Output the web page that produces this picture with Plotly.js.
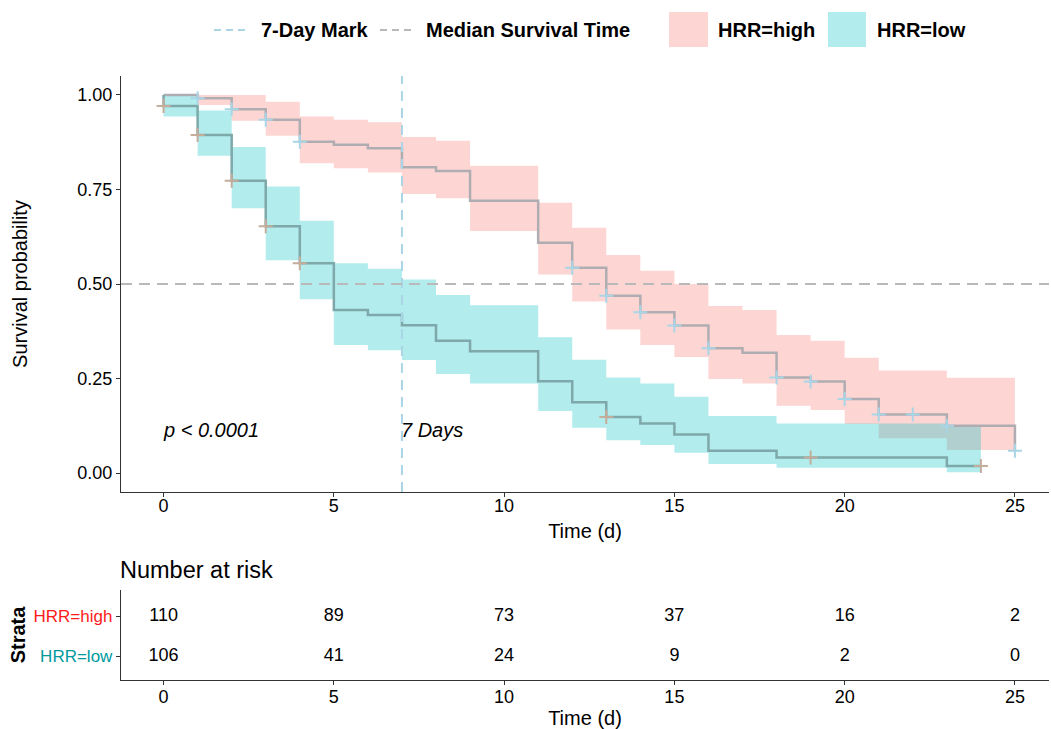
<!DOCTYPE html>
<html>
<head>
<meta charset="utf-8">
<script src="https://cdn.plot.ly/plotly-3.0.1.min.js"></script>
<style>html,body{margin:0;padding:0;background:#fff;}#chart{width:1051px;height:729px;}</style>
</head>
<body>
<div id="chart"></div>
<script>
// ---- Data ----
const highTimes = [0,1,2,3,4,5,6,7,8,9,11,12,13,14,15,16,17,18,19,20,21,23,25];
const highSurv  = [1.000,0.991,0.962,0.934,0.876,0.868,0.859,0.809,0.799,0.720,0.609,0.543,0.469,0.425,0.390,0.330,0.318,0.253,0.242,0.196,0.155,0.125,0.059];
const highUpper = [1.000,1.000,1.000,0.982,0.943,0.934,0.928,0.889,0.879,0.813,0.715,0.649,0.577,0.535,0.500,0.442,0.431,0.365,0.350,0.305,0.271,0.252];
const highLower = [1.000,0.973,0.932,0.892,0.819,0.806,0.795,0.738,0.727,0.640,0.525,0.454,0.380,0.339,0.307,0.249,0.237,0.178,0.167,0.130,0.092,0.061];
const highEnd = 25;

const lowStart = 1.0;
const lowTimes = [0,1,2,3,4,5,6,7,8,9,11,12,13,14,15,16,18,23];
const lowSurv  = [0.971,0.894,0.773,0.653,0.555,0.431,0.418,0.391,0.350,0.322,0.243,0.187,0.148,0.131,0.102,0.059,0.041,0.019];
const lowUpper = [1.000,0.959,0.862,0.758,0.667,0.555,0.540,0.512,0.471,0.444,0.359,0.300,0.253,0.237,0.202,0.151,0.131,0.125];
const lowLower = [0.943,0.839,0.700,0.563,0.460,0.339,0.325,0.299,0.262,0.237,0.164,0.120,0.087,0.074,0.054,0.024,0.014,0.002];
const lowEnd = 24;

const highCensorT = [1,2,3,4,12,13,14,15,16,18,19,20,21,22,23,25];
const highCensorS = [0.991,0.962,0.934,0.876,0.543,0.469,0.425,0.390,0.330,0.253,0.242,0.196,0.155,0.155,0.125,0.059];
const lowCensorT = [0,1,2,3,4,13,19,24];
const lowCensorS = [0.971,0.894,0.773,0.653,0.555,0.148,0.041,0.019];

const riskTimes = [0,5,10,15,20,25];
const highRisk = [110,89,73,37,16,2];
const lowRisk  = [106,41,24,9,2,0];
const strata = ['HRR=low','HRR=high'];

const markDay = 7;
const medianLevel = 0.5;
const xTicks = [0,5,10,15,20,25];
const yTicks = [0,0.25,0.5,0.75,1];
const yTickText = ['0.00','0.25','0.50','0.75','1.00'];

// ---- helpers ----
function stepPath(times, vals, endT){
  const xs=[], ys=[];
  for(let i=0;i<times.length;i++){
    const next = (i+1<times.length)? times[i+1] : endT;
    xs.push(times[i]); ys.push(vals[i]);
    xs.push(next); ys.push(vals[i]);
  }
  return {x:xs, y:ys};
}
function band(times, up, lo, endT){
  const u = stepPath(times, up, endT), l = stepPath(times, lo, endT);
  return {x:u.x.concat(l.x.slice().reverse()), y:u.y.concat(l.y.slice().reverse())};
}

const FONT = 'Liberation Sans, Arial, Helvetica, sans-serif';
const pink = 'rgba(248,118,109,0.3)';
const cyan = 'rgba(0,191,196,0.3)';

const hb = band(highTimes.slice(0,highTimes.length-1), highUpper, highLower, highEnd);
const lb = band(lowTimes, lowUpper, lowLower, lowEnd);
const hl = stepPath(highTimes, highSurv, highEnd);
const ll = stepPath([0].concat(lowTimes), [lowStart].concat(lowSurv), lowEnd);

const traces = [
  {x:hb.x, y:hb.y, type:'scatter', mode:'lines', fill:'toself', fillcolor:pink, line:{width:0}, hoverinfo:'skip', showlegend:false},
  {x:lb.x, y:lb.y, type:'scatter', mode:'lines', fill:'toself', fillcolor:cyan, line:{width:0}, hoverinfo:'skip', showlegend:false},
  {x:hl.x, y:hl.y, type:'scatter', mode:'lines', line:{color:'#b0adb2', width:2.5}, showlegend:false},
  {x:ll.x, y:ll.y, type:'scatter', mode:'lines', line:{color:'#7ea8a9', width:2.5}, showlegend:false},
  {x:highCensorT, y:highCensorS, type:'scatter', mode:'markers', marker:{symbol:'cross-thin', size:10, line:{color:'#a9d5e6', width:2}}, showlegend:false},
  {x:lowCensorT, y:lowCensorS, type:'scatter', mode:'markers', marker:{symbol:'cross-thin', size:10, line:{color:'#c4ad9b', width:2}}, showlegend:false},
  {x:riskTimes, y:riskTimes.map(()=>2), text:highRisk.map(String), type:'scatter', mode:'text', textfont:{family:FONT, size:18, color:'#000'}, xaxis:'x2', yaxis:'y2', showlegend:false},
  {x:riskTimes, y:riskTimes.map(()=>1), text:lowRisk.map(String), type:'scatter', mode:'text', textfont:{family:FONT, size:18, color:'#000'}, xaxis:'x2', yaxis:'y2', showlegend:false}
];

// pixel -> paper helpers for manual legend (plot area: x 121..1049, y 76..680)
const PL=121, PW=928, PB=680, PH=604;
const px = v => (v-PL)/PW;
const py = v => (PB-v)/PH;

const shapes = [
  {type:'line', xref:'x', yref:'y domain', x0:markDay, x1:markDay, y0:0, y1:1, line:{color:'#a9d5e6', width:2, dash:'10px,7px'}, layer:'above'},
  {type:'line', xref:'x domain', yref:'y', x0:0, x1:1, y0:medianLevel, y1:medianLevel, line:{color:'#b9b9b9', width:2, dash:'11px,7px'}, layer:'above'},
  // legend swatches
  {type:'line', xref:'paper', yref:'paper', x0:px(214), x1:px(246), y0:py(30), y1:py(30), line:{color:'#a9d5e6', width:2, dash:'7px,5px'}},
  {type:'line', xref:'paper', yref:'paper', x0:px(380), x1:px(412), y0:py(30), y1:py(30), line:{color:'#b9b9b9', width:2, dash:'7px,5px'}},
  {type:'rect', xref:'paper', yref:'paper', x0:px(669), x1:px(708), y0:py(47), y1:py(12), fillcolor:pink, line:{width:0}},
  {type:'rect', xref:'paper', yref:'paper', x0:px(828), x1:px(866), y0:py(47), y1:py(12), fillcolor:cyan, line:{width:0}}
];

const annotations = [
  {text:'<i>p < 0.0001</i>', xref:'x', yref:'y', x:0, y:0.113, xanchor:'left', yanchor:'middle', xshift:-3, showarrow:false, font:{family:FONT, size:20, color:'#000'}},
  {text:'<i>7 Days</i>', xref:'x', yref:'y', x:markDay, y:0.113, xanchor:'left', yanchor:'middle', xshift:-3, showarrow:false, font:{family:FONT, size:20, color:'#000'}},
  {text:'Number at risk', xref:'paper', yref:'paper', x:px(118), y:py(570), xanchor:'left', yanchor:'middle', showarrow:false, font:{family:FONT, size:23.5, color:'#000'}},
  {text:'<b>7-Day Mark</b>', xref:'paper', yref:'paper', x:px(259), y:py(30), xanchor:'left', yanchor:'middle', showarrow:false, font:{family:FONT, size:20, color:'#000'}},
  {text:'<b>Median Survival Time</b>', xref:'paper', yref:'paper', x:px(424), y:py(30), xanchor:'left', yanchor:'middle', showarrow:false, font:{family:FONT, size:20, color:'#000'}},
  {text:'<b>HRR=high</b>', xref:'paper', yref:'paper', x:px(716), y:py(30), xanchor:'left', yanchor:'middle', showarrow:false, font:{family:FONT, size:20, color:'#000'}},
  {text:'<b>HRR=low</b>', xref:'paper', yref:'paper', x:px(875), y:py(30), xanchor:'left', yanchor:'middle', showarrow:false, font:{family:FONT, size:20, color:'#000'}}
];

const axisCommon = {showgrid:false, zeroline:false, showline:true, linecolor:'#333', linewidth:1.2, ticks:'outside', ticklen:4, tickcolor:'#333', tickfont:{family:FONT, size:18, color:'#000'}};

const layout = {
  width:1051, height:729,
  margin:{l:121, r:2, t:76, b:49},
  paper_bgcolor:'#fff', plot_bgcolor:'#fff',
  showlegend:false,
  font:{family:FONT},
  xaxis: Object.assign({}, axisCommon, {domain:[0,1], range:[-1.25,26.0], tickvals:xTicks, anchor:'y', ticklabelstandoff:-7,
    title:{text:'Time (d)', font:{family:FONT, size:20, color:'#000'}, standoff:9}}),
  yaxis: Object.assign({}, axisCommon, {domain:[188/604,1], range:[-0.05,1.05], tickvals:yTicks, ticktext:yTickText, anchor:'x',
    title:{text:'Survival probability', font:{family:FONT, size:20, color:'#000'}, standoff:44}}),
  xaxis2: Object.assign({}, axisCommon, {domain:[0,1], range:[-1.25,26.0], tickvals:xTicks, anchor:'y2', ticklabelstandoff:-4,
    title:{text:'Time (d)', font:{family:FONT, size:20, color:'#000'}, standoff:8}}),
  yaxis2: Object.assign({}, axisCommon, {domain:[0,90/604], range:[0.4,2.65], tickvals:[1,2], anchor:'x2',
    ticktext:['<span style="color:#009a9e">'+strata[0]+'</span>','<span style="color:#ff1a1a">'+strata[1]+'</span>'],
    tickfont:{family:FONT, size:17, color:'#000'},
    title:{text:'<b>Strata</b>', font:{family:FONT, size:20, color:'#000'}, standoff:2}}),
  shapes: shapes,
  annotations: annotations
};

Plotly.newPlot('chart', traces, layout, {staticPlot:true, displayModeBar:false});
</script>
</body>
</html>
